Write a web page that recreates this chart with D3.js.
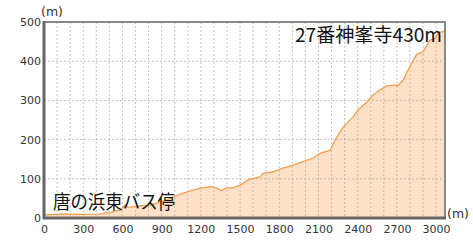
<!DOCTYPE html>
<html>
<head>
<meta charset="utf-8">
<script src="https://cdn.jsdelivr.net/npm/d3@7"></script>
<style>
  html, body { margin: 0; padding: 0; background: #fff; }
  .tick text { font-family: "DejaVu Sans", sans-serif; font-size: 11px; fill: #333; }
  .label-big { font-family: "Noto Sans CJK JP", sans-serif; font-size: 19px; fill: #111; }
  .unit { font-family: "DejaVu Sans", sans-serif; font-size: 12.5px; fill: #333; }
</style>
</head>
<body>
<div class="chart-profile"><svg></svg></div>
<script>
'use strict';

// distance (m) / elevation (m)
var distances = [0, 122, 276, 429, 467, 505, 543, 582, 620, 643, 735, 811, 939, 1041, 1140, 1207, 1283, 1322, 1355, 1398, 1446, 1500, 1561, 1653, 1676, 1753, 1829, 1906, 1982, 2059, 2112, 2189, 2227, 2288, 2365, 2403, 2470, 2518, 2571, 2623, 2686, 2709, 2748, 2786, 2814, 2852, 2900, 2929, 2954, 2992, 3015, 3044, 3068];
var elevations = [8, 10, 9, 10, 13, 13, 18, 20, 33, 27, 31, 33, 46, 61, 71, 77, 80, 76, 70, 77, 77, 84, 97, 105, 114, 118, 127, 135, 144, 153, 165, 173, 199, 232, 258, 276, 296, 314, 327, 337, 339, 338, 352, 378, 395, 418, 424, 441, 454, 458, 471, 475, 478];
var xTicks = [0, 300, 600, 900, 1200, 1500, 1800, 2100, 2400, 2700, 3000];
var yTicks = [0, 100, 200, 300, 400, 500];
var startLabel = '唐の浜東バス停';
var endLabel = '27番神峯寺430m';

function profileChart() {
    var margin = { top: 22, right: 28, bottom: 27, left: 44 };
    var w = 473, h = 245;
    var width = w - margin.left - margin.right;
    var height = h - margin.top - margin.bottom;
    var svg = d3.select('.chart-profile svg').attr('width', w).attr('height', h);
    var g = svg.append('g').attr('transform', 'translate(' + margin.left + ',' + margin.top + ')');

    var data = distances.map(function (d, i) {
        return { dist: d, elev: elevations[i] };
    });

    var x = d3.scaleLinear().domain([0, d3.max(distances)]).range([0, width]);
    var y = d3.scaleLinear().domain([0, 500]).range([height, 0]);

    var area = d3.area().x(function (d) { return x(d.dist); }).y0(height).y1(function (d) { return y(d.elev); });
    var line = d3.line().x(function (d) { return x(d.dist); }).y(function (d) { return y(d.elev); });

    g.append('path').datum(data).attr('d', area).attr('fill', '#fde0c6');

    // grid cada 100 m
    var gridX = d3.range(100, 3001, 100);
    var gridY = d3.range(100, 500, 100);
    g.append('g').selectAll('line').data(gridX).enter().append('line')
        .attr('x1', function (d) { return x(d); }).attr('x2', function (d) { return x(d); })
        .attr('y1', 0).attr('y2', height)
        .attr('stroke', '#aaa').attr('stroke-opacity', 0.7).attr('stroke-dasharray', '2,2');
    g.append('g').selectAll('line').data(gridY).enter().append('line')
        .attr('x1', 0).attr('x2', width)
        .attr('y1', function (d) { return y(d); }).attr('y2', function (d) { return y(d); })
        .attr('stroke', '#aaa').attr('stroke-opacity', 0.7).attr('stroke-dasharray', '2,2');

    g.append('path').datum(data).attr('d', line).attr('fill', 'none')
        .attr('stroke', '#f0a050').attr('stroke-width', 1.3);

    // ejes
    var axisX = d3.axisBottom(x).tickValues(xTicks).tickFormat(d3.format('d')).tickSize(0).tickPadding(6);
    var axisY = d3.axisLeft(y).tickValues(yTicks).tickFormat(d3.format('d')).tickSize(0).tickPadding(3);
    var gx = g.append('g').attr('transform', 'translate(0,' + height + ')').call(axisX);
    var gy = g.append('g').call(axisY);
    gx.select('.domain').remove();
    gy.select('.domain').remove();
    gx.selectAll('.tick text').attr('dy', '0.85em');

    // marco
    g.append('rect').attr('x', 0).attr('y', 0).attr('width', width).attr('height', height)
        .attr('fill', 'none').attr('stroke', '#888').attr('stroke-width', 2);
    g.append('line').attr('x1', 0).attr('x2', 0).attr('y1', -1).attr('y2', height + 1)
        .attr('stroke', '#666').attr('stroke-width', 3);
    g.append('line').attr('x1', -1).attr('x2', width + 1).attr('y1', height).attr('y2', height)
        .attr('stroke', '#666').attr('stroke-width', 3);

    // unidades
    svg.append('text').attr('class', 'unit').attr('x', 41).attr('y', 16).text('(m)');
    svg.append('text').attr('class', 'unit').attr('x', 447).attr('y', 218).text('(m)');

    // textos de inicio y fin
    svg.append('text').attr('class', 'label-big').attr('x', 53).attr('y', 209)
        .attr('textLength', 122).attr('lengthAdjust', 'spacingAndGlyphs').text(startLabel);
    svg.append('text').attr('class', 'label-big').attr('x', 295).attr('y', 42)
        .attr('textLength', 147).attr('lengthAdjust', 'spacingAndGlyphs').text(endLabel);
}

profileChart();
</script>
</body>
</html>
